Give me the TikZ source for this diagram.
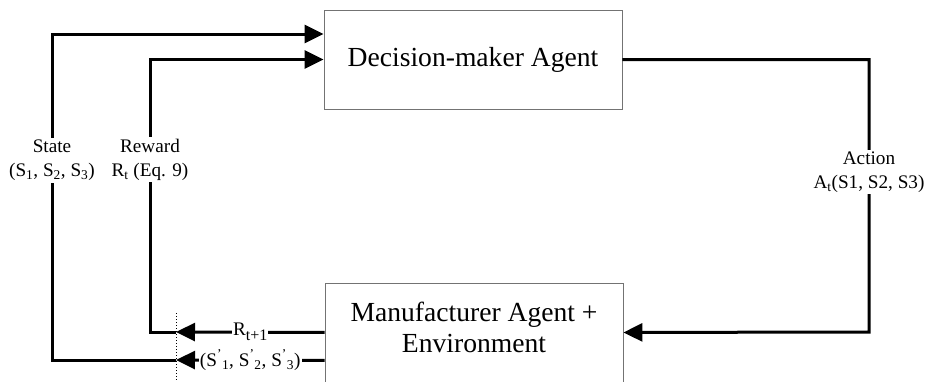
\documentclass[tikz,border=0pt]{standalone}
\usepackage{fontspec}
\setmainfont{Liberation Serif}
\usetikzlibrary{arrows.meta,positioning}

\begin{document}
\begin{tikzpicture}[x=1pt,y=-1pt,
    agentbox/.style={draw=black!55, line width=0.9pt, minimum width=298pt,
      font=\fontsize{27.6}{31}\selectfont, align=center},
    agenttext/.style={inner sep=0pt, font=\fontsize{27.6}{31}\selectfont, align=center},
    lbl/.style={fill=white, inner xsep=1pt, inner ysep=2pt,
      font=\fontsize{19.2}{24}\selectfont, align=center},
    flow/.style={line width=3pt, -{Triangle[length=19pt,width=18pt]}}]
  \clip (0,0) rectangle (925,381);

  % the two agents
  \node[agentbox, minimum height=99pt] (dm) at (473,59.5) {Decision-maker Agent};
  \node[agentbox, minimum height=130pt, anchor=north] (env) at (474,283) {};
  \node[agenttext] (envtxt) at ([yshift=-44pt]env.north) {Manufacturer Agent +\\Environment};

  % turning points
  \coordinate (stip) at (176,360);
  \coordinate (rtip) at (176,332);
  \coordinate (sturn) at (52,360);
  \coordinate (rturn) at (150,332);
  \coordinate (aturn) at (869,332);

  \draw[dotted, line width=1pt] (176,313) -- (176,381);

  % state
  \draw[flow] ([yshift=-12pt]env.west) -- node[lbl]
    {(S\textsuperscript{'}\textsubscript{1}, S\textsuperscript{'}\textsubscript{2}, S\textsuperscript{'}\textsubscript{3})} (stip);
  \draw[flow] (stip) -- (sturn) -- node[lbl, pos=0.613]
    {State\\(S\textsubscript{1}, S\textsubscript{2}, S\textsubscript{3})}
    (sturn |- 0,34) -- ([yshift=25.5pt]dm.west);

  % reward
  \draw[flow] ([yshift=16pt]env.west) -- node[lbl, inner ysep=0pt]
    {R\raisebox{-5pt}{\fontsize{16}{16}\selectfont t+1}} (rtip);
  \draw[flow] (rtip) -- (rturn) -- node[lbl, pos=0.632]
    {Reward\\R\textsubscript{t} (Eq. 9)} (rturn |- dm.west) -- (dm.west);

  % action
  \draw[flow] (dm.east) -- (dm.east -| aturn) -- node[lbl, pos=0.413]
    {Action\\A\textsubscript{t}(S1, S2, S3)} (aturn) -- ([yshift=16pt]env.east);
\end{tikzpicture}
\end{document}
